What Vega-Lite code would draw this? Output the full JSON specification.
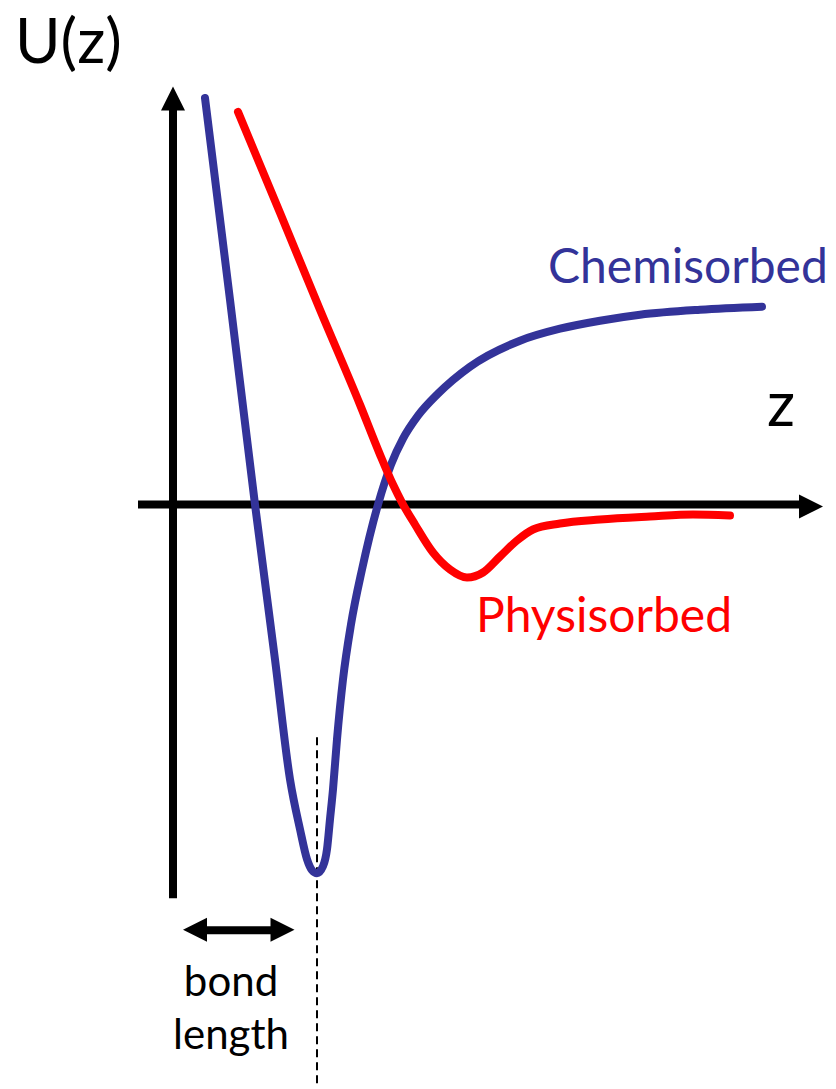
{
  "$schema": "https://vega.github.io/schema/vega-lite/v6.json",
  "width": 836,
  "height": 1089,
  "autosize": {"type": "fit", "contains": "padding"},
  "padding": 0,
  "background": "white",
  "config": {"view": {"stroke": null}},
  "datasets": {
    "curves": [
      {"curve": "Chemisorbed", "z": 0.32, "U": 4.07},
      {"curve": "Chemisorbed", "z": 0.57, "U": 2.05},
      {"curve": "Chemisorbed", "z": 0.82, "U": 0.0},
      {"curve": "Chemisorbed", "z": 1.02, "U": -1.55},
      {"curve": "Chemisorbed", "z": 1.17, "U": -2.75},
      {"curve": "Chemisorbed", "z": 1.27, "U": -3.25},
      {"curve": "Chemisorbed", "z": 1.34, "U": -3.55},
      {"curve": "Chemisorbed", "z": 1.39, "U": -3.66},
      {"curve": "Chemisorbed", "z": 1.44, "U": -3.69},
      {"curve": "Chemisorbed", "z": 1.50, "U": -3.62},
      {"curve": "Chemisorbed", "z": 1.54, "U": -3.45},
      {"curve": "Chemisorbed", "z": 1.57, "U": -3.15},
      {"curve": "Chemisorbed", "z": 1.60, "U": -2.85},
      {"curve": "Chemisorbed", "z": 1.64, "U": -2.35},
      {"curve": "Chemisorbed", "z": 1.70, "U": -1.75},
      {"curve": "Chemisorbed", "z": 1.78, "U": -1.20},
      {"curve": "Chemisorbed", "z": 1.89, "U": -0.65},
      {"curve": "Chemisorbed", "z": 2.05, "U": 0.0},
      {"curve": "Chemisorbed", "z": 2.18, "U": 0.40},
      {"curve": "Chemisorbed", "z": 2.30, "U": 0.66},
      {"curve": "Chemisorbed", "z": 2.45, "U": 0.89},
      {"curve": "Chemisorbed", "z": 2.65, "U": 1.11},
      {"curve": "Chemisorbed", "z": 2.97, "U": 1.38},
      {"curve": "Chemisorbed", "z": 3.47, "U": 1.64},
      {"curve": "Chemisorbed", "z": 3.87, "U": 1.76},
      {"curve": "Chemisorbed", "z": 4.27, "U": 1.84},
      {"curve": "Chemisorbed", "z": 4.67, "U": 1.90},
      {"curve": "Chemisorbed", "z": 5.27, "U": 1.95},
      {"curve": "Chemisorbed", "z": 5.89, "U": 1.98},
      {"curve": "Physisorbed", "z": 0.65, "U": 3.93},
      {"curve": "Physisorbed", "z": 1.07, "U": 2.92},
      {"curve": "Physisorbed", "z": 1.47, "U": 1.95},
      {"curve": "Physisorbed", "z": 1.87, "U": 1.00},
      {"curve": "Physisorbed", "z": 2.07, "U": 0.50},
      {"curve": "Physisorbed", "z": 2.20, "U": 0.20},
      {"curve": "Physisorbed", "z": 2.29, "U": 0.02},
      {"curve": "Physisorbed", "z": 2.42, "U": -0.20},
      {"curve": "Physisorbed", "z": 2.60, "U": -0.48},
      {"curve": "Physisorbed", "z": 2.77, "U": -0.65},
      {"curve": "Physisorbed", "z": 2.94, "U": -0.73},
      {"curve": "Physisorbed", "z": 3.10, "U": -0.68},
      {"curve": "Physisorbed", "z": 3.27, "U": -0.52},
      {"curve": "Physisorbed", "z": 3.44, "U": -0.36},
      {"curve": "Physisorbed", "z": 3.60, "U": -0.25},
      {"curve": "Physisorbed", "z": 3.87, "U": -0.19},
      {"curve": "Physisorbed", "z": 4.27, "U": -0.15},
      {"curve": "Physisorbed", "z": 4.77, "U": -0.12},
      {"curve": "Physisorbed", "z": 5.20, "U": -0.10},
      {"curve": "Physisorbed", "z": 5.57, "U": -0.11}
    ],
    "rules": [
      {"part": "U axis", "z": 0, "U": -3.94, "z2": 0, "U2": 3.95},
      {"part": "z axis", "z": -0.35, "U": 0, "z2": 6.27, "U2": 0},
      {"part": "bond length", "z": 0.34, "U": -4.26, "z2": 0.98, "U2": -4.26}
    ],
    "dashed": [
      {"z": 1.44, "U": -2.33, "U2": -5.84}
    ],
    "heads": [
      {"dir": "up", "z": 0, "U": 4.065},
      {"dir": "right", "z": 6.38, "U": -0.02},
      {"dir": "left", "z": 0.22, "U": -4.255},
      {"dir": "right", "z": 1.095, "U": -4.255}
    ],
    "labels": [
      {"label": "U(z)", "kind": "axis", "z": -1.58, "U": 4.42},
      {"label": "z", "kind": "axis", "z": 5.94, "U": 0.79},
      {"label": "bond", "kind": "note", "z": 0.58, "U": -4.92},
      {"label": "length", "kind": "note", "z": 0.58, "U": -5.45},
      {"label": "Chemisorbed", "kind": "curve", "curve": "Chemisorbed", "z": 3.75, "U": 2.22},
      {"label": "Physisorbed", "kind": "curve", "curve": "Physisorbed", "z": 3.03, "U": -1.28}
    ]
  },
  "encoding": {
    "x": {"field": "z", "type": "quantitative", "scale": {"domain": [-1.73, 6.63], "nice": false, "zero": false}, "axis": null},
    "y": {"field": "U", "type": "quantitative", "scale": {"domain": [-5.84, 5.05], "nice": false, "zero": false}, "axis": null}
  },
  "layer": [
    {
      "data": {"name": "rules"},
      "mark": {"type": "rule", "color": "black", "strokeWidth": 8, "strokeCap": "butt"},
      "encoding": {
        "x2": {"field": "z2"},
        "y2": {"field": "U2"}
      }
    },
    {
      "data": {"name": "dashed"},
      "mark": {"type": "rule", "color": "black", "strokeWidth": 2, "strokeDash": [8, 5]},
      "encoding": {
        "y2": {"field": "U2"}
      }
    },
    {
      "data": {"name": "heads"},
      "transform": [{"filter": "datum.dir === 'up'"}],
      "mark": {"type": "point", "shape": "M0,-1L1,1L-1,1Z", "filled": true, "color": "black", "opacity": 1, "size": 576, "strokeWidth": 0}
    },
    {
      "data": {"name": "heads"},
      "transform": [{"filter": "datum.dir === 'right'"}],
      "mark": {"type": "point", "shape": "M1,0L-1,-1L-1,1Z", "filled": true, "color": "black", "opacity": 1, "size": 576, "strokeWidth": 0}
    },
    {
      "data": {"name": "heads"},
      "transform": [{"filter": "datum.dir === 'left'"}],
      "mark": {"type": "point", "shape": "M-1,0L1,-1L1,1Z", "filled": true, "color": "black", "opacity": 1, "size": 576, "strokeWidth": 0}
    },
    {
      "data": {"name": "curves"},
      "mark": {"type": "line", "strokeWidth": 8, "interpolate": "monotone", "strokeCap": "round", "strokeJoin": "round"},
      "encoding": {
        "color": {"field": "curve", "type": "nominal", "scale": {"domain": ["Chemisorbed", "Physisorbed"], "range": ["#333399", "#ff0000"]}, "legend": null}
      }
    },
    {
      "data": {"name": "labels"},
      "transform": [{"filter": "datum.kind === 'curve'"}],
      "mark": {"type": "text", "font": "Lato", "fontSize": 48, "align": "left", "baseline": "alphabetic"},
      "encoding": {
        "text": {"field": "label"},
        "color": {"field": "curve", "type": "nominal", "scale": {"domain": ["Chemisorbed", "Physisorbed"], "range": ["#333399", "#ff0000"]}, "legend": null}
      }
    },
    {
      "data": {"name": "labels"},
      "transform": [{"filter": "datum.kind === 'axis'"}],
      "mark": {"type": "text", "font": "Lato", "fontSize": 62, "align": "left", "baseline": "alphabetic", "color": "black"},
      "encoding": {"text": {"field": "label"}}
    },
    {
      "data": {"name": "labels"},
      "transform": [{"filter": "datum.kind === 'note'"}],
      "mark": {"type": "text", "font": "Lato", "fontSize": 42, "align": "center", "baseline": "alphabetic", "color": "black"},
      "encoding": {"text": {"field": "label"}}
    }
  ]
}
